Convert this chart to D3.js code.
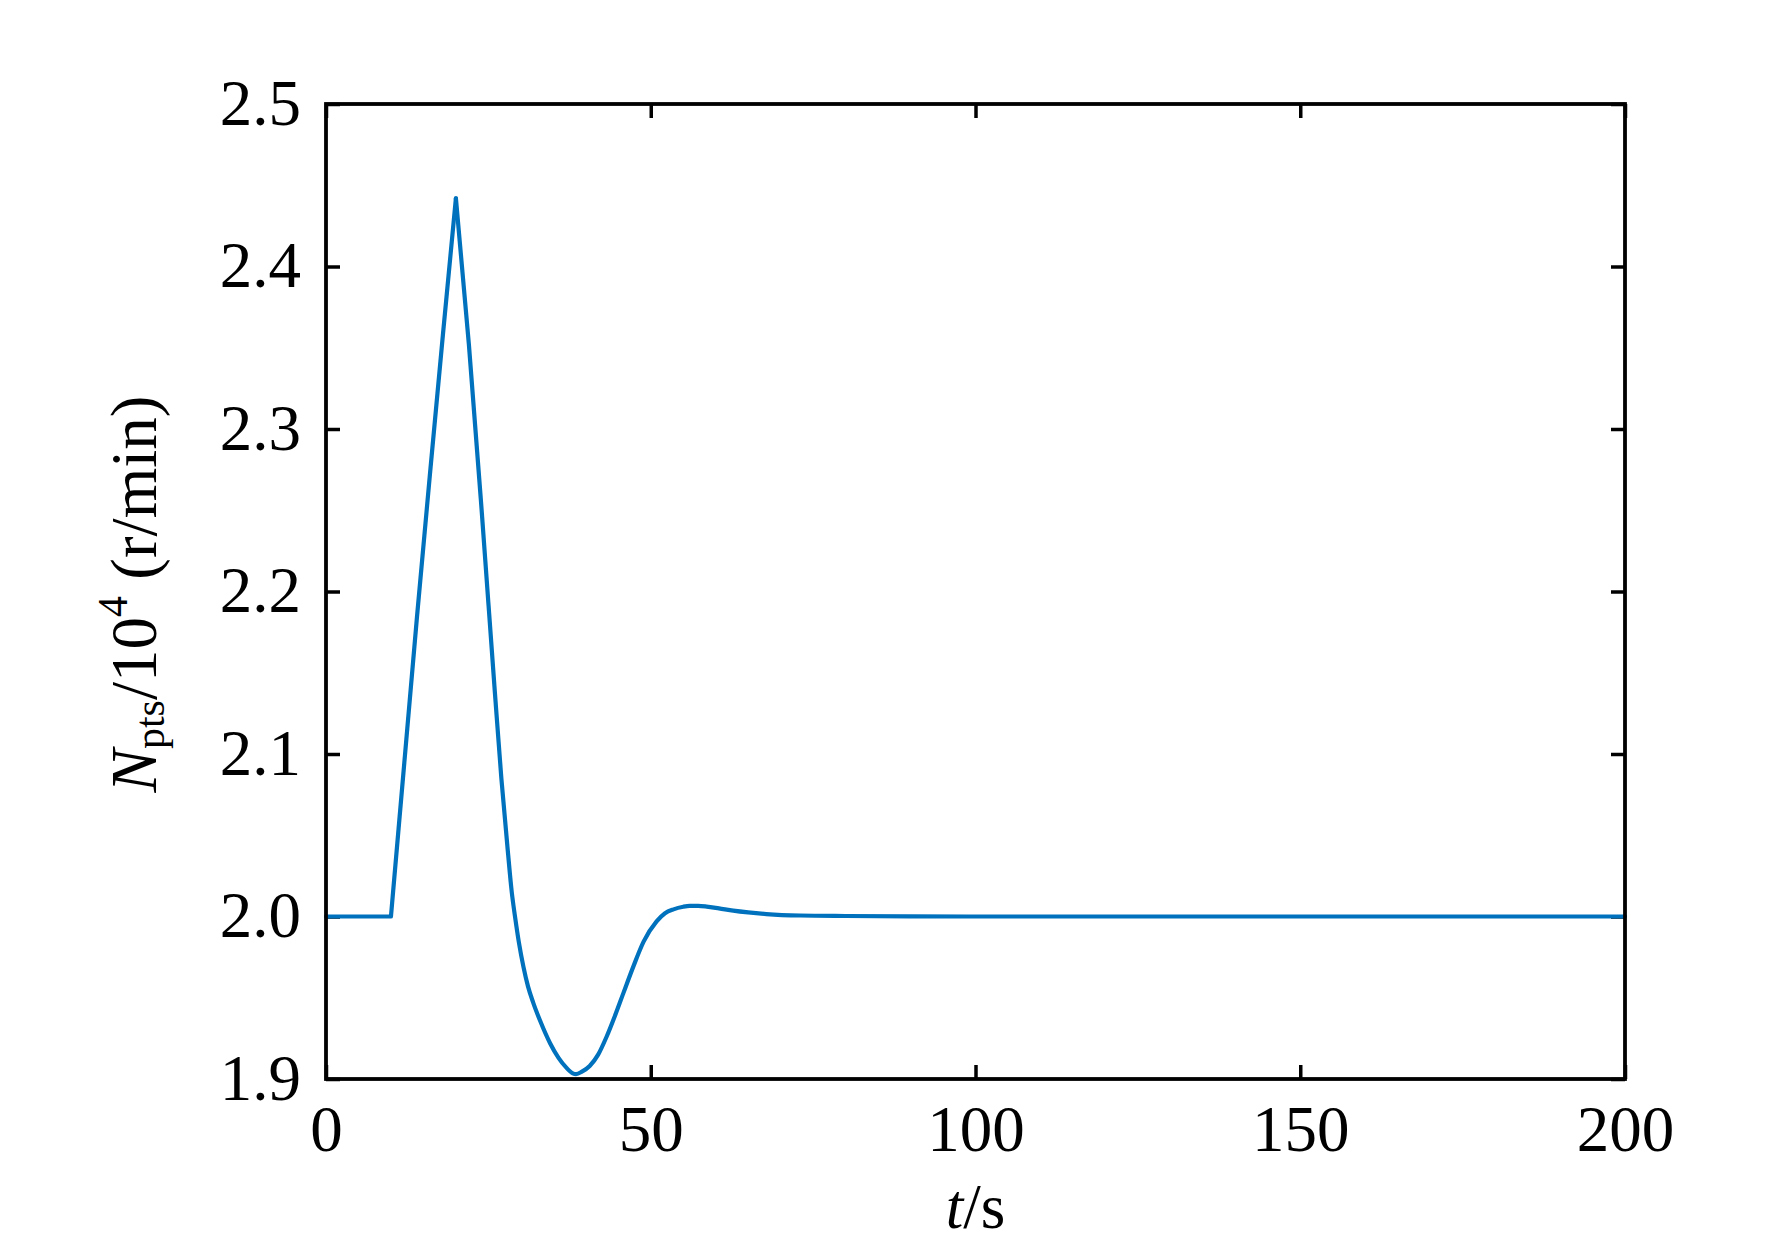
<!DOCTYPE html>
<html>
<head>
<meta charset="utf-8">
<script src="https://cdn.jsdelivr.net/npm/d3@7"></script>
<style>
  html, body { margin: 0; padding: 0; background: #fff; }
  svg { display: block; }
  text { font-family: "Liberation Serif", "Times New Roman", serif; fill: #000; }
</style>
</head>
<body>
<svg id="chart" width="1772" height="1249"></svg>
<script>
// ---- data ----
const timeS = [0, 10, 12, 14, 16, 18, 20, 22, 24, 26, 27, 28, 28.6, 29.1, 29.7, 30.4, 31.1, 31.9, 33.0, 34.5,
  35.8, 37.0, 38.0, 38.5, 39.4, 40.6, 41.9, 43.2, 44.5, 45.8, 47.3, 48.9, 50.9, 52.2, 53.5, 55.0, 56.0, 57.3,
  58.6, 60.5, 62.7, 65.0, 67.8, 73.0, 80, 90, 100, 200];
const speed = [2.000, 2.000, 2.092, 2.184, 2.272, 2.358, 2.442, 2.352, 2.248, 2.138, 2.085, 2.040, 2.015, 2.000,
  1.984, 1.969, 1.957, 1.947, 1.9355, 1.922, 1.913, 1.907, 1.9035, 1.903, 1.9045, 1.908, 1.915, 1.926, 1.939,
  1.953, 1.969, 1.9845, 1.997, 2.002, 2.0044, 2.006, 2.0065, 2.0065, 2.0061, 2.005, 2.0036, 2.0025, 2.0015,
  2.0006, 2.0003, 2.0001, 2.000, 2.000];
const xTicks = [0, 50, 100, 150, 200];
const yTicks = [1.9, 2.0, 2.1, 2.2, 2.3, 2.4, 2.5];
const xDomain = [0, 200];
const yDomain = [1.9, 2.5];

// ---- layout ----
const L = 326, R = 1625, T = 104, B = 1079;
const svg = d3.select("#chart");
svg.append("rect").attr("width", 1772).attr("height", 1249).attr("fill", "#fff");

const x = d3.scaleLinear().domain(xDomain).range([L, R]);
const y = d3.scaleLinear().domain(yDomain).range([B, T]);

const tickLen = 14;
const fmtY = d3.format(".1f");

const gB = svg.append("g").attr("transform", `translate(0,${B})`)
  .call(d3.axisBottom(x).tickValues(xTicks).tickSize(-tickLen).tickFormat(d3.format("d")));
const gT = svg.append("g").attr("transform", `translate(0,${T})`)
  .call(d3.axisTop(x).tickValues(xTicks).tickSize(-tickLen).tickFormat(""));
const gL = svg.append("g").attr("transform", `translate(${L},0)`)
  .call(d3.axisLeft(y).tickValues(yTicks).tickSize(-tickLen).tickFormat(fmtY));
const gR = svg.append("g").attr("transform", `translate(${R},0)`)
  .call(d3.axisRight(y).tickValues(yTicks).tickSize(-tickLen).tickFormat(""));

[gB, gT, gL, gR].forEach(g => {
  g.select(".domain").remove();
  g.selectAll(".tick line").attr("stroke", "#000").attr("stroke-width", 3.5);
  g.selectAll(".tick text").attr("font-family", "Liberation Serif, Times New Roman, serif").attr("fill", "#000");
});

gB.selectAll(".tick text").attr("font-size", 65).attr("y", 0).attr("dy", 72).attr("text-anchor", "middle");
gL.selectAll(".tick text").attr("font-size", 65).attr("x", -25).attr("dy", 20).attr("text-anchor", "end");

// data line: linear ramp up to the peak, smooth response after it
const peakIdx = speed.indexOf(d3.max(speed));
const idxRise = d3.range(0, peakIdx + 1);
const idxFall = d3.range(peakIdx, speed.length);

const lineLin = d3.line().x(i => x(timeS[i])).y(i => y(speed[i])).curve(d3.curveLinear);
const lineSmooth = d3.line().x(i => x(timeS[i])).y(i => y(speed[i])).curve(d3.curveMonotoneX);

const gLine = svg.append("g")
  .attr("fill", "none")
  .attr("stroke", "#0072BD")
  .attr("stroke-width", 4.2)
  .attr("stroke-linejoin", "round")
  .attr("stroke-linecap", "round");
gLine.append("path").datum(idxRise).attr("d", lineLin);
gLine.append("path").datum(idxFall).attr("d", lineSmooth);

// frame
svg.append("rect")
  .attr("x", L).attr("y", T).attr("width", R - L).attr("height", B - T)
  .attr("fill", "none").attr("stroke", "#000").attr("stroke-width", 3.8);

// x-axis title
const xt = svg.append("text")
  .attr("x", (L + R) / 2).attr("y", 1228)
  .attr("text-anchor", "middle").attr("font-size", 63);
xt.append("tspan").attr("font-style", "italic").text("t");
xt.append("tspan").text("/s");

// y-axis title
const yt = svg.append("text")
  .attr("transform", `translate(156,594) rotate(-90)`)
  .attr("text-anchor", "middle").attr("font-size", 65);
yt.append("tspan").attr("font-style", "italic").text("N");
yt.append("tspan").attr("font-size", 42).attr("dy", 8).text("pts");
yt.append("tspan").attr("dy", -8).text("/10");
yt.append("tspan").attr("font-size", 42).attr("dy", -29).text("4");
yt.append("tspan").attr("dy", 29).text(" (r/min)");
</script>
</body>
</html>
